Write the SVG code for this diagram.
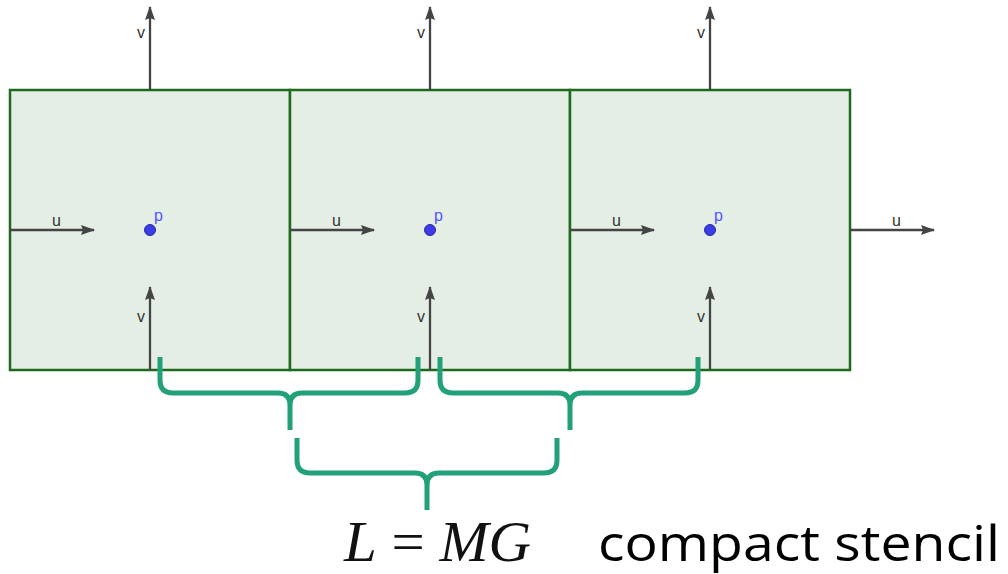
<svg xmlns="http://www.w3.org/2000/svg" width="1008" height="574" viewBox="0 0 1008 574">
<defs>
<marker id="ah" markerWidth="14" markerHeight="10" refX="13" refY="5" orient="auto" markerUnits="userSpaceOnUse">
<path d="M0,0 L14,5 L0,10 L2,5 Z" fill="#444"/>
</marker>
<style>
.cell{fill:#e4eee4;stroke:#1d6a1d;stroke-width:2.5}
.arr{stroke:#444;stroke-width:2.3;fill:none;marker-end:url(#ah)}
.lbl{font-family:"Liberation Sans",Arial,sans-serif;font-size:16px;fill:#333}
.pl{font-family:"Liberation Sans",Arial,sans-serif;font-size:16px;fill:#5555ff}
.dot{fill:#3b3bea;stroke:#2a2a9a;stroke-width:1}
.brace{stroke:#22a07a;stroke-width:5;fill:none;stroke-linecap:butt;stroke-linejoin:round}
</style>
</defs>
<g id="cell1"><rect class="cell" x="10" y="90" width="280" height="280"/></g>
<g id="cell2"><rect class="cell" x="290" y="90" width="280" height="280"/></g>
<g id="cell3"><rect class="cell" x="570" y="90" width="280" height="280"/></g>
<g id="connectors">
<line class="arr" x1="150" y1="90" x2="150" y2="7"/>
<line class="arr" x1="430" y1="90" x2="430" y2="7"/>
<line class="arr" x1="710" y1="90" x2="710" y2="7"/>
<line class="arr" x1="150" y1="370" x2="150" y2="287"/>
<line class="arr" x1="430" y1="370" x2="430" y2="287"/>
<line class="arr" x1="710" y1="370" x2="710" y2="287"/>
<line class="arr" x1="10" y1="230" x2="94" y2="230"/>
<line class="arr" x1="290" y1="230" x2="374" y2="230"/>
<line class="arr" x1="570" y1="230" x2="654" y2="230"/>
<line class="arr" x1="850" y1="230" x2="934" y2="230"/>
</g>
<g id="labels">
<text class="lbl" x="137" y="38">v</text>
<text class="lbl" x="417" y="38">v</text>
<text class="lbl" x="697" y="38">v</text>
<text class="lbl" x="137" y="322">v</text>
<text class="lbl" x="417" y="322">v</text>
<text class="lbl" x="697" y="322">v</text>
<text class="lbl" x="52" y="226">u</text>
<text class="lbl" x="332" y="226">u</text>
<text class="lbl" x="612" y="226">u</text>
<text class="lbl" x="892" y="226">u</text>
</g>
<g id="p1"><circle class="dot" cx="150" cy="230" r="5.5"/><text class="pl" x="154" y="221">p</text></g>
<g id="p2"><circle class="dot" cx="430" cy="230" r="5.5"/><text class="pl" x="434" y="221">p</text></g>
<g id="p3"><circle class="dot" cx="710" cy="230" r="5.5"/><text class="pl" x="714" y="221">p</text></g>
<g id="braces">
<path class="brace" d="M160,357 V380 Q160,393 173,393 H278 Q290,393 290,405 V430 M290,405 Q290,393 302,393 H405 Q418,393 418,380 V357"/>
<path class="brace" d="M440,357 V380 Q440,393 453,393 H558 Q570,393 570,405 V430 M570,405 Q570,393 582,393 H685 Q698,393 698,380 V357"/>
<path class="brace" d="M297,438 V460 Q297,473 310,473 H415 Q427,473 427,485 V510 M427,485 Q427,473 439,473 H544 Q557,473 557,460 V438"/>
</g>
<g id="formula">
<text x="344" y="561" font-family="'Liberation Serif','Times New Roman',serif" font-size="56" fill="#111" textLength="187" lengthAdjust="spacingAndGlyphs"><tspan font-style="italic">L</tspan> = <tspan font-style="italic">MG</tspan></text>
</g>
<g id="caption">
<text x="598" y="561" font-family="'Open Sans','Liberation Sans',sans-serif" font-size="50" fill="#000" textLength="402" lengthAdjust="spacingAndGlyphs">compact stencil</text>
</g>
</svg>
